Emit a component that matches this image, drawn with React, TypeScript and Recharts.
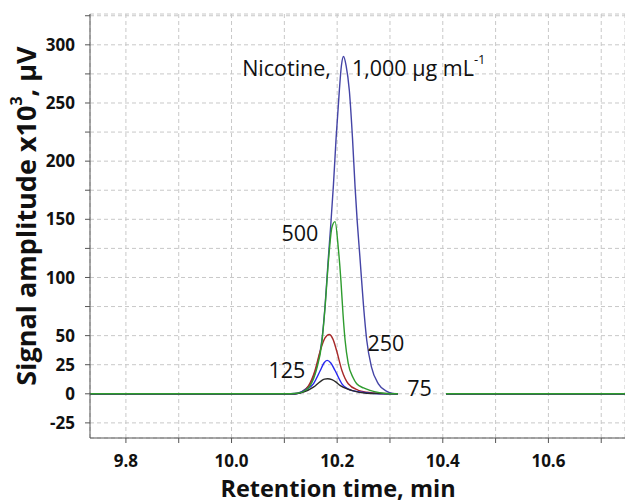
import { LineChart, Line, XAxis, YAxis, CartesianGrid, ReferenceDot } from "recharts";

const FONT = "'Open Sans', 'Noto Sans', sans-serif";

// retention times (min) and amplitudes (x10^3 µV)
const t1000 = [9.732, 10.1, 10.125, 10.14, 10.149, 10.161, 10.171, 10.177, 10.183, 10.188, 10.193, 10.198, 10.204, 10.208, 10.212, 10.217, 10.223, 10.229, 10.234, 10.238, 10.243, 10.25, 10.256, 10.265, 10.278, 10.294, 10.305, 10.315, 10.36, 10.406, 10.745];
const v1000 = [0, 0, 0.5, 4, 8.6, 23, 46, 75, 115, 146, 180, 220, 260, 282, 290, 282, 261, 220, 177, 148, 118, 75, 46, 23, 8.6, 2, 0.3, 0, null, 0, 0];

const t500 = [9.732, 10.1, 10.125, 10.14, 10.149, 10.161, 10.171, 10.177, 10.184, 10.19, 10.196, 10.202, 10.207, 10.211, 10.215, 10.221, 10.23, 10.237, 10.25, 10.262, 10.28, 10.3, 10.315, 10.36, 10.406, 10.745];
const v500 = [0, 0, 0.5, 3, 7, 21, 44, 74, 117, 143, 148, 126, 98, 69, 46, 26, 14, 8.6, 5, 3, 1, 0, 0, null, 0, 0];

const t250 = [9.732, 10.12, 10.133, 10.146, 10.158, 10.168, 10.177, 10.185, 10.192, 10.199, 10.209, 10.221, 10.24, 10.256, 10.28, 10.315, 10.36, 10.406, 10.745];
const v250 = [0, 0, 1.4, 7, 20, 37, 48, 51, 47, 37, 20, 8.6, 3, 1.4, 0.3, 0, null, 0, 0];

const t125 = [9.732, 10.12, 10.139, 10.155, 10.168, 10.175, 10.181, 10.188, 10.196, 10.209, 10.227, 10.247, 10.27, 10.315, 10.36, 10.406, 10.745];
const v125 = [0, 0, 3, 8.6, 20, 26.5, 28.7, 26.5, 20, 8.6, 3, 1.4, 0.3, 0, null, 0, 0];

const t75 = [9.732, 10.12, 10.136, 10.155, 10.168, 10.176, 10.182, 10.19, 10.198, 10.206, 10.227, 10.256, 10.28, 10.315, 10.36, 10.406, 10.745];
const v75 = [0, 0, 1.4, 5.7, 10.5, 12.6, 12.9, 12.2, 10, 7, 3, 0.5, 0.2, 0, null, 0, 0];

const xMajor = [9.8, 9.9, 10.0, 10.1, 10.2, 10.3, 10.4, 10.5, 10.6, 10.7];
const yMajor = [-25, 0, 25, 50, 75, 100, 125, 150, 175, 200, 225, 250, 275, 300, 325];
const yLabelled = [-25, 0, 25, 50, 100, 150, 200, 250, 300];
const xMinor = Array.from({ length: 51 }, (_, i) => +(9.74 + i * 0.02).toFixed(2));
const yMinor = Array.from({ length: 73 }, (_, i) => -35 + i * 5);

const concLabels = ["1,000", "500", "250", "125", "75"];

const pts = (ts: number[], vs: (number | null)[]) => ts.map((t, i) => ({ t, v: vs[i] }));

const series = [
  { id: "c1000", data: pts(t1000, v1000), color: "#4444a6" },
  { id: "c250", data: pts(t250, v250), color: "#a82a2a" },
  { id: "c125", data: pts(t125, v125), color: "#2626f0" },
  { id: "c75", data: pts(t75, v75), color: "#2a2a2a" },
  { id: "c500", data: pts(t500, v500), color: "#2e9c2e" },
];

const X_DOMAIN = [9.732, 10.745];
const Y_DOMAIN = [-38, 326.5];

const tickStyle = { fontSize: 17, fontWeight: 700, fill: "#111", fontFamily: FONT };

const XTitle = () => (
  <text x={338} y={497} textAnchor="middle" fontFamily={FONT} fontSize={23.5} fontWeight={700} fill="#111">
    Retention time, min
  </text>
);

const YTitle = () => (
  <text
    x={25}
    y={216}
    transform="rotate(-90, 25, 216)"
    textAnchor="middle"
    dominantBaseline="central"
    fontFamily={FONT}
    fontSize={27}
    fontWeight={700}
    fill="#111"
  >
    Signal amplitude x10<tspan dy={-9} fontSize={16}>3</tspan>
    <tspan dy={9}>, μV</tspan>
  </text>
);

const Annot = ({ viewBox, text, anchor = "middle", sup }: any) => (
  <text
    x={viewBox.x}
    y={viewBox.y}
    textAnchor={anchor}
    dominantBaseline="central"
    fontFamily={FONT}
    fontSize={21.5}
    fill="#111"
  >
    {text}
    {sup && (
      <tspan dy={-8} fontSize={13}>
        {sup}
      </tspan>
    )}
  </text>
);

export default function App() {
  const fmtX = (v: number) => (Math.round(v * 10) % 2 === 0 ? v.toFixed(1) : "");
  const fmtY = (v: number) => (yLabelled.includes(v) ? String(v) : "");
  return (
    <div style={{ position: "absolute", left: 0, top: 0, background: "#fff" }}>
      <LineChart width={625} height={503} margin={{ top: 14, right: 0, bottom: 0, left: 0 }}>
        <CartesianGrid stroke="#c8c8c8" strokeDasharray="4 3" />
        <XAxis
          xAxisId="minor"
          type="number"
          dataKey="t"
          domain={X_DOMAIN}
          ticks={xMinor}
          tick={false}
          tickSize={3}
          tickLine={{ stroke: "#555" }}
          axisLine={false}
          height={0}
          interval={0}
          allowDataOverflow
        />
        <XAxis
          type="number"
          dataKey="t"
          domain={X_DOMAIN}
          ticks={xMajor}
          tickFormatter={fmtX}
          tick={tickStyle}
          tickSize={5}
          tickMargin={12}
          tickLine={{ stroke: "#555" }}
          axisLine={{ stroke: "#555" }}
          height={65}
          interval={0}
          allowDataOverflow
          label={<XTitle />}
        />
        <XAxis
          xAxisId="top"
          orientation="top"
          type="number"
          domain={X_DOMAIN}
          tick={false}
          tickLine={false}
          axisLine={{ stroke: "#555" }}
          height={0}
          allowDataOverflow
        />
        <YAxis
          yAxisId="minor"
          type="number"
          domain={Y_DOMAIN}
          ticks={yMinor}
          tick={false}
          tickSize={3}
          tickLine={{ stroke: "#555" }}
          axisLine={false}
          width={0}
          interval={0}
          allowDataOverflow
        />
        <YAxis
          type="number"
          domain={Y_DOMAIN}
          ticks={yMajor}
          tickFormatter={fmtY}
          tick={tickStyle}
          tickSize={5}
          tickMargin={10}
          tickLine={{ stroke: "#555" }}
          axisLine={{ stroke: "#555" }}
          width={90}
          interval={0}
          allowDataOverflow
          label={<YTitle />}
        />
        {series.map((s) => (
          <Line
            key={s.id}
            data={s.data}
            dataKey="v"
            type="monotone"
            stroke={s.color}
            strokeWidth={1.4}
            dot={false}
            activeDot={false}
            isAnimationActive={false}
          />
        ))}
        <ReferenceDot x={10.1882} y={280.9} r={0} fill="none" stroke="none" label={<Annot text="Nicotine," anchor="end" />} />
        <ReferenceDot x={10.2279} y={280.9} r={0} fill="none" stroke="none" label={<Annot text={concLabels[0] + " μg mL"} anchor="start" sup="-1" />} />
        <ReferenceDot x={10.1295} y={138.7} r={0} fill="none" stroke="none" label={<Annot text={concLabels[1]} />} />
        <ReferenceDot x={10.2923} y={43.7} r={0} fill="none" stroke="none" label={<Annot text={concLabels[2]} />} />
        <ReferenceDot x={10.1049} y={21.3} r={0} fill="none" stroke="none" label={<Annot text={concLabels[3]} />} />
        <ReferenceDot x={10.3559} y={5.8} r={0} fill="none" stroke="none" label={<Annot text={concLabels[4]} />} />
      </LineChart>
    </div>
  );
}
